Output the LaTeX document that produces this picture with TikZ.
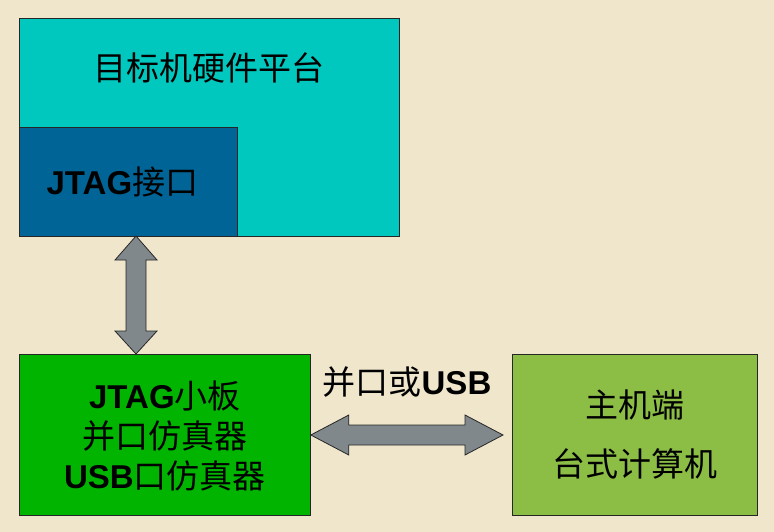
\documentclass[tikz,border=0pt]{standalone}
\usepackage{fontspec}
\setmainfont{Noto Sans CJK SC}
\newfontfamily\latin{Liberation Sans}
\usetikzlibrary{positioning,calc}

\definecolor{paper}{RGB}{240,230,204}
\definecolor{targetcol}{RGB}{0,200,190}
\definecolor{jtagcol}{RGB}{0,100,150}
\definecolor{boardcol}{RGB}{0,180,0}
\definecolor{hostcol}{RGB}{140,190,70}
\definecolor{arrowcol}{RGB}{128,136,140}
\newcommand{\lat}[1]{{\latin\bfseries #1}}

\begin{document}
\begin{tikzpicture}[x=1pt,y=-1pt]
      \tikzstyle{rectblock}=[rectangle, draw=black!85, line width=0.8pt, inner sep=0pt, anchor=north west]
      \tikzstyle{txt}=[font=\fontsize{33}{40}\selectfont, align=center, inner sep=0pt]
      \tikzstyle{fatarrow}=[draw=black!85, line width=0.8pt, fill=arrowcol, line join=miter]
      \fill[paper] (0,0) rectangle (774,532);
      \useasboundingbox (0,0) rectangle (774,532);
      % boxes
      \node[rectblock, fill=targetcol, minimum width=380, minimum height=218] (target) at (19,18) {};
      \node[rectblock, fill=jtagcol, minimum width=218, minimum height=109] (jtag) at (19,127) {};
      \node[rectblock, fill=boardcol, minimum width=291, minimum height=161] (board) at (19,354) {};
      \node[rectblock, fill=hostcol, minimum width=245, minimum height=161] (host) at (512,354) {};
      % texts
      \node[txt, below=34pt of target.north] (targettext) {目标机硬件平台};
      \node[txt, xshift=-6pt] (jtagtext) at (jtag.center) {\lat{JTAG}接口};
      \node[txt] (boardtext) at ($(board.center)+(0,1)$) {\lat{JTAG}小板\\并口仿真器\\\lat{USB}口仿真器};
      \node[txt] (hosttext) at (host.center) {主机端\\[19pt]台式计算机};
      \node[txt] (linktext) at (407,382) {并口或\lat{USB}};
      % connectors
      \coordinate (vtop) at (136,236);
      \coordinate (vbot) at (136,354);
      \coordinate (hleft) at (board.east |- 0,435);
      \coordinate (hright) at (503,435);
      \draw[fatarrow] (vtop) -- ++(21,24) -- ++(-11,0) -- ($(vbot)+(10,-23)$) -- ++(11,0) -- (vbot)
        -- ++(-21,-23) -- ++(11,0) -- ($(vtop)+(-10,24)$) -- ++(-11,0) -- cycle;
      \draw[fatarrow] (hleft) -- ++(38,-20) -- ++(0,10) -- ($(hright)+(-38,-10)$) -- ++(0,-10) -- (hright)
        -- ++(-38,20) -- ++(0,-10) -- ($(hleft)+(38,10)$) -- ++(0,10) -- cycle;
    \end{tikzpicture}
\end{document}
